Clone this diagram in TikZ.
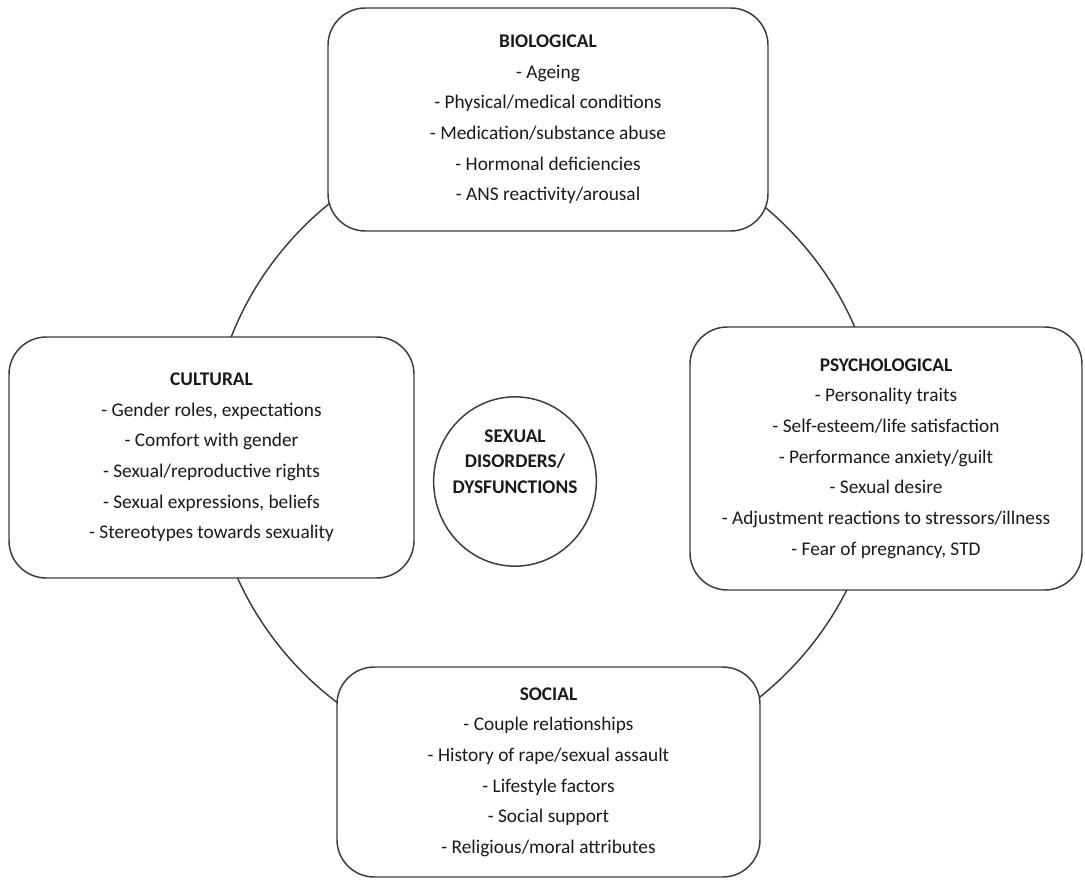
\documentclass[tikz,border=0pt]{standalone}
\usepackage{fontspec}
\setmainfont{Carlito}
\usetikzlibrary{shapes.geometric}
\definecolor{edge}{HTML}{3C3C3C}
\definecolor{ink}{HTML}{1A1A1A}
\begin{document}
\begin{tikzpicture}[x=0.75pt,y=-0.75pt,
  factor/.style={draw=edge, line width=1.1pt, fill=white, rounded corners=28pt,
    align=center, text=ink, font=\fontsize{14.5}{23}\selectfont, inner sep=0pt},
  core/.style={draw=edge, line width=1.1pt, fill=white, ellipse, inner sep=0pt},
  coretext/.style={align=center, text=ink, font=\fontsize{14.5}{19}\selectfont\bfseries, inner sep=0pt},
  ring/.style={draw=edge, line width=1.1pt, ellipse, inner sep=0pt}]
\useasboundingbox (0,0) rectangle (1085,879);

% the cycle linking the four factor groups
\node[ring, minimum width=502.5pt, minimum height=483pt] (cycle) at (545,450) {};

\node[factor, minimum width=330pt, minimum height=167.25pt] (bio) at (548,119.5)
  {\textbf{BIOLOGICAL}\\- Ageing\\- Physical/medical conditions\\- Medication/substance abuse\\- Hormonal deficiencies\\- ANS reactivity/arousal};

\node[factor, minimum width=303.75pt, minimum height=180.75pt] (cult) at (211.5,457.5)
  {\textbf{CULTURAL}\\- Gender roles, expectations\\- Comfort with gender\\- Sexual/reproductive rights\\- Sexual expressions, beliefs\\- Stereotypes towards sexuality};

\node[factor, minimum width=294pt, minimum height=197.25pt] (psy) at (886,458.5)
  {\textbf{PSYCHOLOGICAL}\\- Personality traits\\- Self-esteem/life satisfaction\\- Performance anxiety/guilt\\- Sexual desire\\- Adjustment reactions to stressors/illness\\- Fear of pregnancy, STD};

\node[factor, minimum width=317.25pt, minimum height=157.5pt] (soc) at (548.5,772)
  {\textbf{SOCIAL}\\- Couple relationships\\- History of rape/sexual assault\\- Lifestyle factors\\- Social support\\- Religious/moral attributes};

% central outcome: oval with its title set above the middle
\node[core, minimum width=122pt, minimum height=127pt] (sd) at (515,481.5) {};
\node[coretext] (sdtitle) at ([yshift=15pt]sd.center)
  {SEXUAL\\DISORDERS/\\DYSFUNCTIONS};
\end{tikzpicture}
\end{document}
